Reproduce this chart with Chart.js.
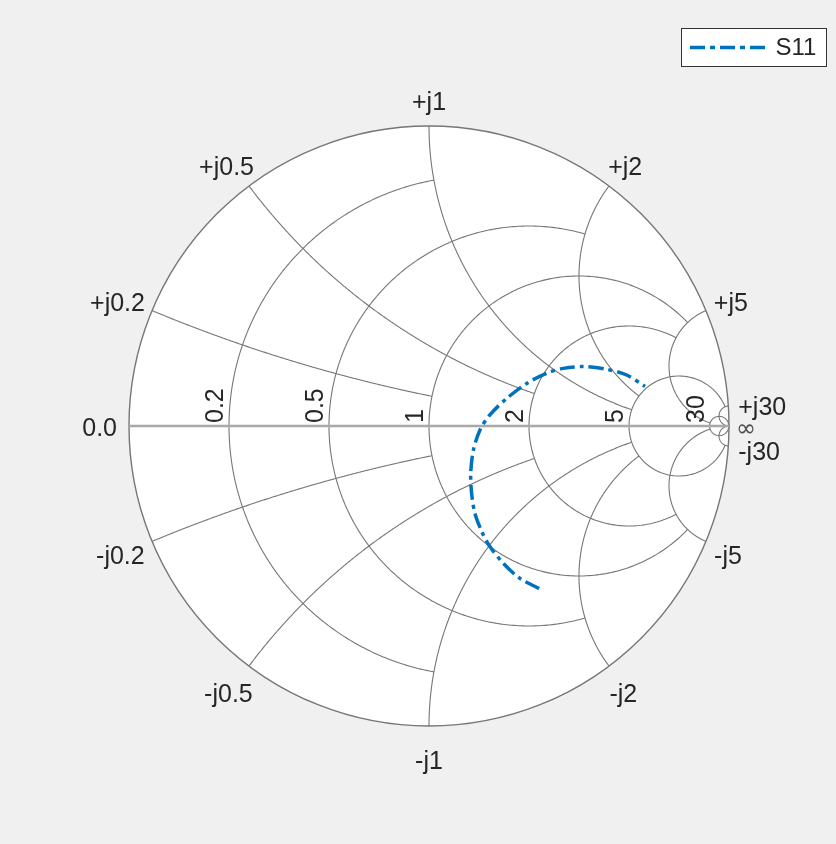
<!DOCTYPE html>
<html><head><meta charset="utf-8">
<script src="https://cdn.jsdelivr.net/npm/chart.js@4.4.1/dist/chart.umd.min.js"></script>
<style>html,body{margin:0;padding:0;background:#f0f0f0;}canvas{display:block;}</style>
</head><body>
<canvas id="c" width="836" height="844"></canvas>
<script>
// ---- data (reflection coefficient) ----
const seriesName = 'S11';
const s11Re = [0.367, 0.303, 0.248, 0.203, 0.176, 0.153, 0.142, 0.139, 0.148, 0.170, 0.203, 0.259, 0.326, 0.392, 0.448, 0.514, 0.592, 0.659, 0.720];
const s11Im = [-0.542, -0.508, -0.458, -0.402, -0.352, -0.291, -0.224, -0.158, -0.080, -0.013, 0.037, 0.092, 0.142, 0.176, 0.192, 0.198, 0.189, 0.170, 0.132];

// ---- Smith grid values: circle value, and how far it is drawn ----
const gridValues = [0.2, 0.5, 1, 2, 5, 30];
const gridLimits = [1, 2, 5, 5, 30, Infinity];
const resistanceTickLabels = ['0.2', '0.5', '1', '2', '5', '30'];
const reactancePosLabels = ['+j0.2', '+j0.5', '+j1', '+j2', '+j5', '+j30'];
const reactanceNegLabels = ['-j0.2', '-j0.5', '-j1', '-j2', '-j5', '-j30'];
const zeroLabel = '0.0';
const infLabel = '\u221E';

const FONT = '25px "Liberation Sans", Arial, Helvetica, sans-serif';
const LEGEND_FONT = '24px "Liberation Sans", Arial, Helvetica, sans-serif';
const INF_FONT = '24px "DejaVu Sans", "Noto Sans", sans-serif';
const TEXT = '#262626';
const GRID = '#767676';
const LINE = '#0072BD';
const DASH = [15, 5, 4, 5];

function gamma(r, x) {
  const d = (r + 1) * (r + 1) + x * x;
  return [(r * r - 1 + x * x) / d, 2 * x / d];
}

const smithPlugin = {
  id: 'smith',
  beforeDatasetsDraw(chart) {
    const ctx = chart.ctx, xs = chart.scales.x, ys = chart.scales.y;
    const P = (g) => [xs.getPixelForValue(g[0]), ys.getPixelForValue(g[1])];
    const c = P([0, 0]);
    const R = xs.getPixelForValue(1) - c[0];
    const N = 400;
    const path = (fn, s0, s1) => {
      ctx.beginPath();
      for (let i = 0; i <= N; i++) {
        const s = s0 + (s1 - s0) * i / N;
        const p = P(fn(s));
        if (i === 0) ctx.moveTo(p[0], p[1]); else ctx.lineTo(p[0], p[1]);
      }
      ctx.stroke();
    };
    ctx.save();
    // white disk
    ctx.beginPath(); ctx.arc(c[0], c[1], R, 0, Math.PI * 2);
    ctx.fillStyle = '#ffffff'; ctx.fill();
    ctx.strokeStyle = GRID; ctx.lineWidth = 1.1;
    gridValues.forEach((v, i) => {
      const L = gridLimits[i];
      const sL = Math.atan(L);
      // constant resistance circle, clipped at |x| = L
      path((s) => gamma(v, Math.tan(s)), -sL, sL);
      // constant reactance arcs, clipped at r = L
      path((s) => gamma(Math.tan(s), v), 0, sL);
      path((s) => gamma(Math.tan(s), -v), 0, sL);
    });
    // outer circle
    ctx.lineWidth = 1.4;
    ctx.beginPath(); ctx.arc(c[0], c[1], R, 0, Math.PI * 2); ctx.stroke();
    // real axis
    ctx.strokeStyle = '#a8a8a8'; ctx.lineWidth = 2.5;
    const a0 = P([-1, 0]), a1 = P([1, 0]);
    ctx.beginPath(); ctx.moveTo(a0[0], a0[1]); ctx.lineTo(a1[0], a1[1]); ctx.stroke();

    // labels
    ctx.font = FONT; ctx.fillStyle = TEXT;
    // resistance labels along real axis
    gridValues.forEach((v, i) => {
      const p = P(gamma(v, 0));
      ctx.save();
      ctx.translate(p[0] - 6, p[1] - 3);
      ctx.rotate(-Math.PI / 2);
      ctx.textAlign = 'left'; ctx.textBaseline = 'alphabetic';
      ctx.fillText(resistanceTickLabels[i], 0, 0);
      ctx.restore();
    });
    // 0.0 label
    ctx.textAlign = 'right'; ctx.textBaseline = 'middle';
    ctx.fillText(zeroLabel, a0[0] - 12, a0[1] + 3);
    // reactance labels around the rim
    const g = 10, Hup = 16, Hdown = 23;
    const placeRim = (txt, gm, extraDy, gap) => {
      const th = Math.atan2(gm[1], gm[0]);
      const ux = Math.cos(th), uy = -Math.sin(th);
      const gg = gap === undefined ? g : gap;
      const ax = c[0] + (R + gg) * ux, ay = c[1] + (R + gg) * uy;
      const w = ctx.measureText(txt).width;
      const sn = Math.sin(th);
      const cx = ax + (w / 2) * ux;
      const cy = ay - (sn > 0 ? Hup : Hdown) * sn + 3 + extraDy;
      ctx.textAlign = 'center'; ctx.textBaseline = 'middle';
      ctx.fillText(txt, cx, cy);
    };
    gridValues.forEach((v, i) => {
      const near = v > 10;
      placeRim(reactancePosLabels[i], gamma(0, v), near ? 1 : 0);
      placeRim(reactanceNegLabels[i], gamma(0, -v), near ? 2 : 0);
    });
    ctx.font = INF_FONT; ctx.fillStyle = '#505050';
    placeRim(infLabel, [1, 0], 1, 7);
    ctx.restore();
  },
  afterDraw(chart) {
    const ctx = chart.ctx;
    ctx.save();
    // legend box
    const bx = 681.5, by = 28.5, bw = 145, bh = 38;
    ctx.fillStyle = '#ffffff'; ctx.fillRect(bx, by, bw, bh);
    ctx.strokeStyle = '#333333'; ctx.lineWidth = 1; ctx.strokeRect(bx, by, bw, bh);
    const ly = by + bh / 2;
    ctx.strokeStyle = LINE; ctx.lineWidth = 3.5; ctx.setLineDash([15, 5, 5, 5]); ctx.lineCap = 'butt';
    ctx.beginPath(); ctx.moveTo(bx + 8.5, ly); ctx.lineTo(bx + 88, ly); ctx.stroke();
    ctx.setLineDash([]);
    ctx.font = LEGEND_FONT; ctx.fillStyle = TEXT; ctx.textAlign = 'left'; ctx.textBaseline = 'middle';
    ctx.fillText(seriesName, bx + 94, ly + 1);
    ctx.restore();
  }
};

new Chart(document.getElementById('c'), {
  type: 'scatter',
  data: {
    datasets: [{
      label: seriesName,
      data: s11Re.map((u, i) => ({ x: u, y: s11Im[i] })),
      showLine: true,
      borderColor: LINE,
      backgroundColor: LINE,
      borderWidth: 3.5,
      borderDash: DASH,
      borderCapStyle: 'butt',
      pointRadius: 0,
      tension: 0.3,
      fill: false
    }]
  },
  options: {
    responsive: false,
    animation: false,
    devicePixelRatio: 1,
    layout: { padding: { left: 129, right: 107, top: 126, bottom: 118 } },
    scales: {
      x: { type: 'linear', min: -1, max: 1, display: false },
      y: { type: 'linear', min: -1, max: 1, display: false }
    },
    plugins: { legend: { display: false }, tooltip: { enabled: false } }
  },
  plugins: [smithPlugin]
});
</script>
</body></html>
